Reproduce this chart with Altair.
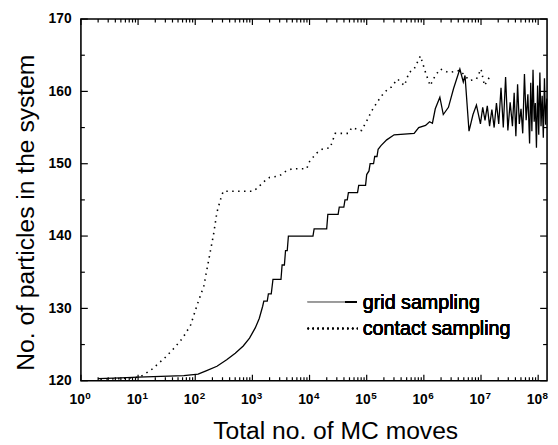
import altair as alt
import pandas as pd

# ---------------- data ----------------
# grid sampling (solid) : log10(MC moves), particles
grid_logx = [0.30, 0.70, 1.00, 1.40, 1.80, 2.05, 2.20, 2.38, 2.55, 2.70, 2.84, 2.95,
             3.05, 3.12, 3.18, 3.20, 3.26, 3.28, 3.33, 3.36, 3.50, 3.52, 3.56, 3.58,
             3.61, 3.63, 4.06, 4.08, 4.30, 4.32, 4.50, 4.52, 4.60, 4.62, 4.66, 4.68,
             4.84, 4.86, 4.98, 5.00, 5.04, 5.06, 5.12, 5.14, 5.18, 5.20, 5.25, 5.35,
             5.48, 5.83, 5.91, 6.03, 6.10, 6.15, 6.20, 6.28, 6.34, 6.43, 6.52, 6.63,
             6.69, 6.72, 6.79, 6.86, 6.92,
             6.95, 6.99, 7.03, 7.07, 7.11, 7.15, 7.19, 7.23, 7.27, 7.31, 7.35, 7.39,
             7.43, 7.47, 7.51, 7.55, 7.58, 7.61, 7.64, 7.67, 7.70, 7.73, 7.76, 7.79,
             7.82, 7.85, 7.87, 7.89, 7.91, 7.93, 7.95, 7.97, 7.99, 8.01, 8.03, 8.05,
             8.07, 8.09, 8.11, 8.13, 8.15]
grid_y = [120.3, 120.4, 120.5, 120.6, 120.7, 120.9, 121.4, 122.0, 122.9, 123.8, 124.8, 125.9,
          127.3, 128.6, 130.3, 131.0, 131.0, 132.0, 132.0, 134.0, 134.0, 136.0, 136.0, 138.0,
          138.0, 140.0, 140.0, 141.0, 141.0, 143.0, 143.0, 144.0, 144.0, 145.0, 145.0, 146.0,
          146.0, 147.0, 147.0, 148.5, 149.0, 150.0, 150.0, 151.0, 151.0, 152.0, 152.5, 153.3,
          154.0, 154.2, 155.0, 155.3, 155.8, 155.6, 157.6, 159.2, 156.8, 157.8, 160.4, 163.1,
          161.3, 162.2, 154.5, 156.8, 158.1,
          157.0, 155.5, 157.8, 156.0, 158.0, 155.2, 157.5, 155.0, 158.4, 155.5, 160.5, 155.0,
          162.0, 154.6, 158.5, 155.2, 159.8, 153.8, 161.0, 155.5, 157.6, 154.2, 162.4, 156.0,
          159.6, 152.8, 161.2, 154.5, 163.0, 155.8, 158.4, 152.2, 160.8, 154.0, 162.6, 155.2,
          159.4, 153.6, 161.8, 155.4, 159.0]

# contact sampling (dotted)
contact_logx = [0.34, 0.70, 1.03, 1.23, 1.46, 1.63, 1.78, 1.92, 2.03, 2.15, 2.26, 2.32,
                2.38, 2.44, 2.49, 3.01, 3.10, 3.18, 3.30, 3.47, 3.59, 3.70, 3.95, 4.00,
                4.05, 4.13, 4.22, 4.36, 4.45, 4.68, 4.74, 4.91, 5.02, 5.08, 5.19, 5.31,
                5.43, 5.54, 5.66, 5.74, 5.83, 5.94, 6.03, 6.11, 6.20, 6.29, 6.43, 6.63,
                6.80, 6.92, 7.00, 7.06, 7.15]
contact_y = [120.2, 120.3, 120.5, 121.5, 123.1, 124.5, 125.9, 127.7, 130.4, 133.1, 137.7, 140.2,
             143.3, 145.0, 146.2, 146.2, 146.7, 147.4, 148.1, 148.3, 149.0, 149.3, 149.3, 150.3,
             150.8, 151.5, 152.0, 152.2, 154.2, 154.2, 155.0, 154.6, 156.2, 157.2, 158.6, 159.9,
             160.6, 161.7, 160.8, 162.6, 163.1, 164.9, 162.6, 160.8, 162.2, 163.1, 162.6, 162.9,
             161.5, 161.7, 163.1, 160.8, 162.0]

# axis ticks
x_decades = [0, 1, 2, 3, 4, 5, 6, 7, 8]
x_minor_mult = [2, 3, 4, 5, 6, 7, 8, 9]
y_major = [120, 130, 140, 150, 160, 170]
y_minor = [125, 135, 145, 155, 165]
legend_labels = ["grid sampling", "contact sampling"]

X_MAX = 1.43e8
W, H = 473, 367
FONT = "Liberation Sans"

# ---------------- tables ----------------
df_grid = pd.DataFrame({"x": [10 ** v for v in grid_logx], "y": grid_y,
                        "o": list(range(len(grid_y)))})
df_contact = pd.DataFrame({"x": [10 ** v for v in contact_logx], "y": contact_y,
                           "o": list(range(len(contact_y)))})
df_xmaj = pd.DataFrame({"v": [10.0 ** d for d in x_decades],
                        "e": [str(d) for d in x_decades]})
df_xmin = pd.DataFrame({"v": [m * 10.0 ** d for d in x_decades for m in x_minor_mult
                              if m * 10.0 ** d <= X_MAX]})
df_ymaj = pd.DataFrame({"v": y_major})
df_ymin = pd.DataFrame({"v": y_minor})

xs = alt.Scale(type="log", domain=[1, X_MAX], nice=False)
ys = alt.Scale(domain=[120, 170], nice=False, zero=False)

grid_line = alt.Chart(df_grid).mark_line(color="black", strokeWidth=1.3).encode(
    x=alt.X("x:Q", scale=xs, axis=alt.Axis(
        orient="bottom", labels=False, ticks=False, domain=False, grid=False,
        title="Total no. of MC moves", titleFont=FONT, titleFontSize=25,
        titleFontWeight="normal", titleColor="black", titleAlign="center",
        titleBaseline="alphabetic", titleX=258, titleY=59)),
    y=alt.Y("y:Q", scale=ys, axis=alt.Axis(
        orient="left", values=y_major, ticks=False, tickSize=0, domain=False,
        grid=False, labelPadding=10, labelFont=FONT, labelFontSize=14,
        labelColor="black", labelFontWeight="bold",
        title="No. of particles in the system", titleFont=FONT, titleFontSize=25,
        titleFontWeight="normal", titleColor="black", titleAngle=270,
        titleAlign="center", titleBaseline="alphabetic", titleX=-48, titleY=196)),
    order="o:Q",
)

contact_line = alt.Chart(df_contact).mark_line(
    color="black", strokeWidth=1.6, strokeDash=[1.5, 4.5]).encode(
    x=alt.X("x:Q", scale=xs, axis=None),
    y=alt.Y("y:Q", scale=ys, axis=None),
    order="o:Q",
)

def xticks(df, length, top):
    y0, y1 = (0, length) if top else (H, H - length)
    return alt.Chart(df).mark_rule(color="black", strokeWidth=1.2).encode(
        x=alt.X("v:Q", scale=xs, axis=None), y=alt.value(y0), y2=alt.value(y1))

def yticks(df, length, right):
    x0, x1 = (W, W - length) if right else (0, length)
    return alt.Chart(df).mark_rule(color="black", strokeWidth=1.2).encode(
        y=alt.Y("v:Q", scale=ys, axis=None), x=alt.value(x0), x2=alt.value(x1))

tick_layers = [
    xticks(df_xmaj, 6, False), xticks(df_xmaj, 6, True),
    xticks(df_xmin, 3.5, False), xticks(df_xmin, 3.5, True),
    yticks(df_ymaj, 7, False), yticks(df_ymaj, 7, True),
    yticks(df_ymin, 4, False), yticks(df_ymin, 4, True),
]

lab_base = alt.Chart(df_xmaj).mark_text(
    text="10", align="right", baseline="alphabetic", dx=4, font=FONT,
    fontSize=14, fontWeight="bold", color="black").encode(
    x=alt.X("v:Q", scale=xs, axis=None), y=alt.value(H + 23.5))
lab_exp = alt.Chart(df_xmaj).mark_text(
    align="left", baseline="alphabetic", dx=4.5, font=FONT, fontSize=10,
    fontWeight="bold", color="black").encode(
    x=alt.X("v:Q", scale=xs, axis=None), y=alt.value(H + 18.5), text="e:N")

# legend
leg_grid_a = alt.Chart(df_ymaj).mark_rule(color="#999999", strokeWidth=1).encode(
    x=alt.value(230), x2=alt.value(268), y=alt.value(287))
leg_grid_b = alt.Chart(df_ymaj).mark_rule(color="black", strokeWidth=1.4).encode(
    x=alt.value(268), x2=alt.value(280), y=alt.value(287))
leg_contact = alt.Chart(df_ymaj).mark_rule(
    color="black", strokeWidth=1.5, strokeDash=[1.5, 3.5]).encode(
    x=alt.value(230), x2=alt.value(281), y=alt.value(314))
leg_text1 = alt.Chart(df_ymaj).mark_text(
    text=legend_labels[0], align="left", baseline="alphabetic", font=FONT,
    fontSize=20, color="black").encode(x=alt.value(286), y=alt.value(294))
leg_text2 = alt.Chart(df_ymaj).mark_text(
    text=legend_labels[1], align="left", baseline="alphabetic", font=FONT,
    fontSize=20, color="black").encode(x=alt.value(286), y=alt.value(320.5))

chart = alt.layer(
    grid_line, contact_line, *tick_layers, lab_base, lab_exp,
    leg_grid_a, leg_grid_b, leg_contact, leg_text1, leg_text2,
).resolve_axis(x="independent", y="independent").properties(
    width=W, height=H,
    autosize=alt.AutoSizeParams(type="none"),
    padding={"left": 74, "top": 8, "right": 3, "bottom": 62},
    background="white",
).configure_view(stroke="black", strokeWidth=1.6)

chart.save("out.html", embed_options={"renderer": "svg", "actions": False})
